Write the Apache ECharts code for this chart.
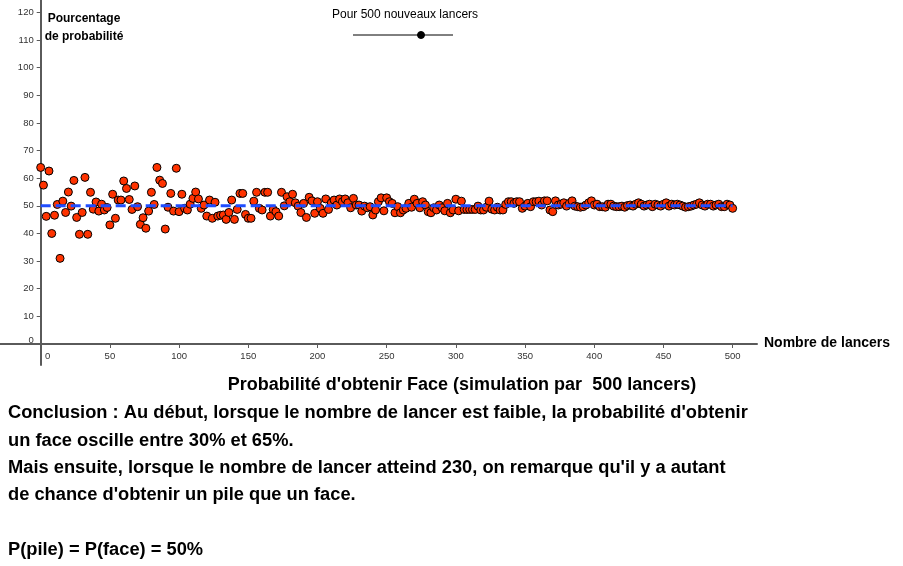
<!DOCTYPE html>
<html>
<head>
<meta charset="utf-8">
<script src="https://cdn.jsdelivr.net/npm/echarts@6/dist/echarts.min.js"></script>
<style>
html,body{margin:0;padding:0;background:#fff;}
#chart{width:903px;height:566px;}
</style>
</head>
<body>
<div id="chart"></div>
<script>
// Number of throws (x) and observed percentage of "Face" (y)
var throwCounts = [
  0,2,4,6,8,10,12,14,16,18,
  20,22,24,26,28,30,32,34,36,38,
  40,42,44,46,48,50,52,54,56,58,
  60,62,64,66,68,70,72,74,76,78,
  80,82,84,86,88,90,92,94,96,98,
  100,102,104,106,108,110,112,114,116,118,
  120,122,124,126,128,130,132,134,136,138,
  140,142,144,146,148,150,152,154,156,158,
  160,162,164,166,168,170,172,174,176,178,
  180,182,184,186,188,190,192,194,196,198,
  200,202,204,206,208,210,212,214,216,218,
  220,222,224,226,228,230,232,234,236,238,
  240,242,244,246,248,250,252,254,256,258,
  260,262,264,266,268,270,272,274,276,278,
  280,282,284,286,288,290,292,294,296,298,
  300,302,304,306,308,310,312,314,316,318,
  320,322,324,326,328,330,332,334,336,338,
  340,342,344,346,348,350,352,354,356,358,
  360,362,364,366,368,370,372,374,376,378,
  380,382,384,386,388,390,392,394,396,398,
  400,402,404,406,408,410,412,414,416,418,
  420,422,424,426,428,430,432,434,436,438,
  440,442,444,446,448,450,452,454,456,458,
  460,462,464,466,468,470,472,474,476,478,
  480,482,484,486,488,490,492,494,496,498,
  500
];
var facePercent = [
  63.9,57.5,46.2,62.6,40.0,46.6,50.5,31.0,51.7,47.6,
  55.0,49.9,59.2,45.8,39.7,47.6,60.3,39.7,54.9,48.8,
  51.4,48.1,50.6,48.5,49.4,43.1,54.2,45.5,52.1,52.1,
  59.0,56.3,52.3,48.7,57.2,49.7,43.3,45.7,41.9,48.1,
  54.9,50.5,63.9,59.3,58.1,41.6,49.5,54.5,48.1,63.6,
  47.9,54.2,49.1,48.5,50.6,52.7,55.0,52.5,49.1,50.3,
  46.3,52.1,45.5,51.3,46.3,46.6,46.7,45.1,47.6,52.1,
  45.1,48.7,54.5,54.5,46.9,45.5,45.5,51.7,54.9,49.1,
  48.5,54.9,54.9,46.3,48.7,47.9,46.3,54.9,50.0,53.3,
  51.5,54.2,51.1,49.9,47.6,50.9,45.8,53.1,51.8,47.3,
  51.5,49.1,47.3,52.5,48.7,51.1,52.1,50.3,52.5,51.5,
  52.5,51.1,49.3,52.7,50.3,50.3,48.1,49.9,49.3,49.7,
  46.7,48.5,51.5,52.9,48.2,52.9,51.5,50.9,47.5,49.7,
  47.5,48.5,49.1,50.9,49.5,52.4,50.9,49.3,51.5,50.3,
  47.9,47.5,49.3,48.5,50.3,49.3,48.2,50.9,47.5,48.5,
  52.4,48.2,51.7,48.7,48.7,48.7,48.7,48.7,49.9,48.5,
  48.5,49.5,51.7,48.8,48.5,49.5,48.5,48.5,50.5,51.5,
  51.5,50.9,51.5,51.5,49.1,49.9,50.9,49.7,51.5,51.5,
  51.7,50.3,51.8,51.8,48.5,47.9,51.8,50.3,50.6,51.1,
  49.9,50.9,51.8,49.9,49.7,49.5,49.7,50.3,51.1,51.8,
  50.3,50.6,49.7,49.7,49.5,50.6,50.6,49.9,49.7,49.7,
  49.9,49.5,50.1,50.3,49.9,50.6,51.1,50.6,49.9,50.3,
  50.6,49.7,50.6,50.3,49.9,50.6,51.1,49.9,50.6,50.3,
  50.6,50.3,49.9,49.5,49.7,49.9,50.3,50.6,51.1,50.3,
  49.9,50.6,50.6,49.9,50.3,50.6,49.7,49.7,50.6,50.3,
  49.1
];
// Theoretical probability reference line
var refX = [0, 500];
var refY = [50, 50];
// Tick labels
var xTicks = [0,50,100,150,200,250,300,350,400,450,500];
var yTicks = [0,10,20,30,40,50,60,70,80,90,100,110,120];

var chart = echarts.init(document.getElementById('chart'), null, {renderer:'canvas'});
var pts = throwCounts.map(function(x,i){ return [x, facePercent[i]]; });
var refPts = refX.map(function(x,i){ return [x, refY[i]]; });
var axisColor = '#5a5a5a';
var FF = '"Liberation Sans", Arial, sans-serif';
var labelFont = {fontFamily:FF, fontSize:9.5, color:'#333'};

chart.setOption({
  animation:false,
  backgroundColor:'#fff',
  grid:{left:0, right:146, top:0, bottom:201, containLabel:false, outerBoundsMode:'none'},
  xAxis:{
    type:'value', min:-29.4, max:517.6, position:'bottom', offset:-21,
    splitLine:{show:false},
    axisLine:{show:true, onZero:false, lineStyle:{color:axisColor, width:2}},
    axisTick:{show:true, length:4, customValues:xTicks, lineStyle:{color:axisColor, width:1}},
    axisLabel:{
      margin:7, customValues:xTicks,
      fontFamily:labelFont.fontFamily, fontSize:labelFont.fontSize, color:labelFont.color,
      formatter:function(v){ return v===0 ? '{z|0}' : String(v); },
      rich:{z:{padding:[0,0,0,14], fontFamily:labelFont.fontFamily, fontSize:labelFont.fontSize, color:labelFont.color}}
    }
  },
  yAxis:{
    type:'value', min:-7.6, max:124.5, position:'left', offset:-40.7,
    splitLine:{show:false},
    axisLine:{show:true, onZero:false, lineStyle:{color:axisColor, width:2}},
    axisTick:{show:true, length:4, customValues:yTicks, lineStyle:{color:axisColor, width:1}},
    axisLabel:{
      margin:7, customValues:yTicks,
      fontFamily:labelFont.fontFamily, fontSize:labelFont.fontSize, color:labelFont.color,
      formatter:function(v){ return v===0 ? '{z|0}' : String(v); },
      rich:{z:{padding:[0,0,8,0], fontFamily:labelFont.fontFamily, fontSize:labelFont.fontSize, color:labelFont.color}}
    }
  },
  series:[
    {
      type:'scatter', data:pts, symbol:'circle', symbolSize:8, z:2,
      itemStyle:{color:'#ff3300', borderColor:'#000', borderWidth:1, opacity:1}
    },
    {
      type:'line', data:refPts, symbol:'none', z:3,
      lineStyle:{color:'#1f4dff', width:3, type:[10,5]}
    }
  ],
  graphic:[
    {type:'text', z:10, position:[84,19], style:{text:'Pourcentage', textAlign:'center', textVerticalAlign:'middle', font:'bold 12px ' + FF, fill:'#000'}},
    {type:'text', z:10, position:[84,37], style:{text:'de probabilité', textAlign:'center', textVerticalAlign:'middle', font:'bold 12px ' + FF, fill:'#000'}},
    {type:'text', z:10, position:[405,15], style:{text:'Pour 500 nouveaux lancers', textAlign:'center', textVerticalAlign:'middle', font:'12px ' + FF, fill:'#000'}},
    {type:'line', z:10, shape:{x1:353, y1:35, x2:453, y2:35}, style:{stroke:'#000', lineWidth:1}},
    {type:'circle', z:11, shape:{cx:421, cy:35, r:3.5}, style:{fill:'#000', stroke:'#000'}},
    {type:'text', z:10, position:[764,343], style:{text:'Nombre de lancers', textAlign:'left', textVerticalAlign:'middle', font:'bold 14px ' + FF, fill:'#000'}},
    {type:'text', z:10, position:[462,385], style:{text:"Probabilité d'obtenir Face (simulation par  500 lancers)", textAlign:'center', textVerticalAlign:'middle', font:'bold 18px ' + FF, fill:'#000'}},
    {type:'text', z:10, position:[8,413], style:{text:"Conclusion : Au début, lorsque le nombre de lancer est faible, la probabilité d'obtenir", textAlign:'left', textVerticalAlign:'middle', font:'bold 18.3px ' + FF, fill:'#000'}},
    {type:'text', z:10, position:[8,441], style:{text:"un face oscille entre 30% et 65%.", textAlign:'left', textVerticalAlign:'middle', font:'bold 18.3px ' + FF, fill:'#000'}},
    {type:'text', z:10, position:[8,468], style:{text:"Mais ensuite, lorsque le nombre de lancer atteind 230, on remarque qu'il y a autant", textAlign:'left', textVerticalAlign:'middle', font:'bold 18.3px ' + FF, fill:'#000'}},
    {type:'text', z:10, position:[8,495], style:{text:"de chance d'obtenir un pile que un face.", textAlign:'left', textVerticalAlign:'middle', font:'bold 18.3px ' + FF, fill:'#000'}},
    {type:'text', z:10, position:[8,550], style:{text:"P(pile) = P(face) = 50%", textAlign:'left', textVerticalAlign:'middle', font:'bold 18.3px ' + FF, fill:'#000'}}
  ]
});
</script>
</body>
</html>
